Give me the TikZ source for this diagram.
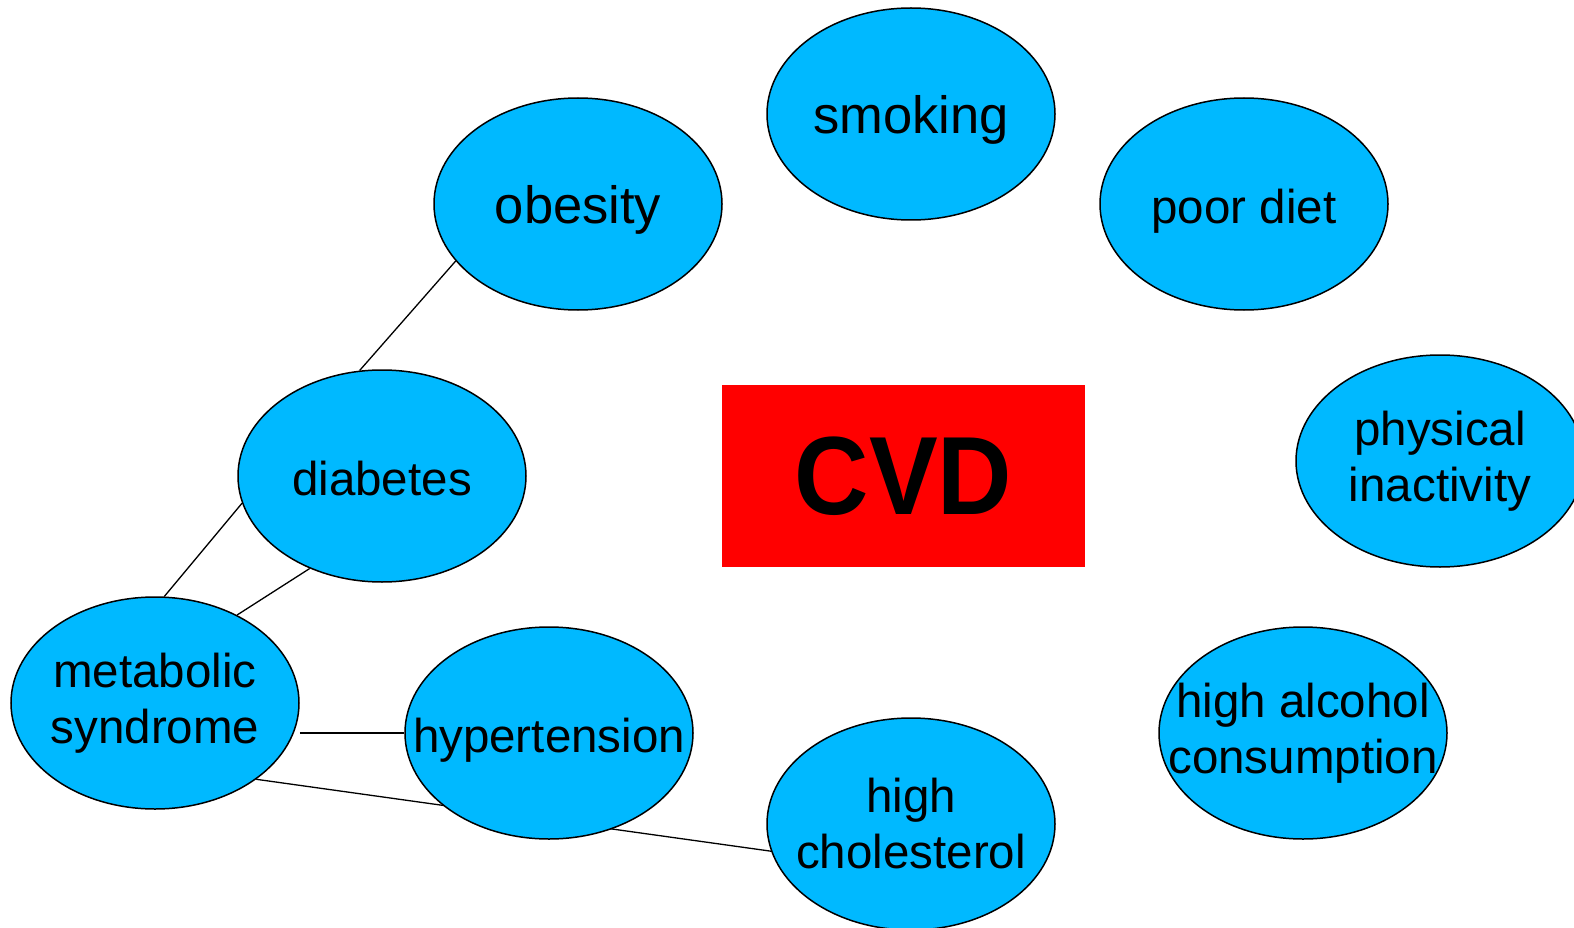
\documentclass[tikz,border=0pt]{standalone}
\usepackage{fontspec}
\setmainfont{Liberation Sans}
\usetikzlibrary{shapes.geometric,backgrounds}
\definecolor{riskblue}{RGB}{0,185,255}

\begin{document}
\begin{tikzpicture}[x=1pt,y=-1pt,
        risk/.style={ellipse,draw=black,line width=1.5pt,fill=riskblue,
          minimum width=288pt,minimum height=212pt,
          inner xsep=-100pt,inner ysep=-80pt,
          align=center,font=\fontsize{47.5}{56}\selectfont},
        onerow/.style={text height=44pt,text depth=5pt},
        every edge/.style={draw=black,line width=1.3pt}]

    \useasboundingbox (0,0) rectangle (1574,928);

    \node[fill=red,minimum width=363pt,minimum height=182pt,
          font=\fontsize{103}{110}\selectfont\bfseries] (cvd) at (903.5,476)
          {\scalebox{1}[1.08]{CVD}};

    \node[risk,onerow,font=\fontsize{52.5}{56}\selectfont] (obes) at (578,204) {obesity};
    \node[risk,onerow,font=\fontsize{52.5}{56}\selectfont] (smok) at (911,114) {smoking};
    \node[risk,onerow] (diet) at (1244,204) {poor diet};
    \node[risk] (inac) at (1440,461) {physical\\inactivity};
    \node[risk,onerow] (diab) at (382,476) {diabetes};
    \node[risk] (meta) at (155,703) {metabolic\\syndrome};
    \node[risk,onerow] (hypt) at (549,733) {hypertension};
    \node[risk] (chol) at (911,824) {high\\cholesterol};
    \node[risk] (alco) at (1303,733) {high alcohol\\consumption};

    \begin{scope}[on background layer]
        \path (obes.205.7) edge (diab.102.7)
              (diab.191.6) edge (meta.85.9)
              (diab.232.8) edge (meta.47.3)
              (hypt.west -| meta.east) edge (hypt.west)
              (meta.323.1) edge (chol.191.9);
    \end{scope}
\end{tikzpicture}
\end{document}
